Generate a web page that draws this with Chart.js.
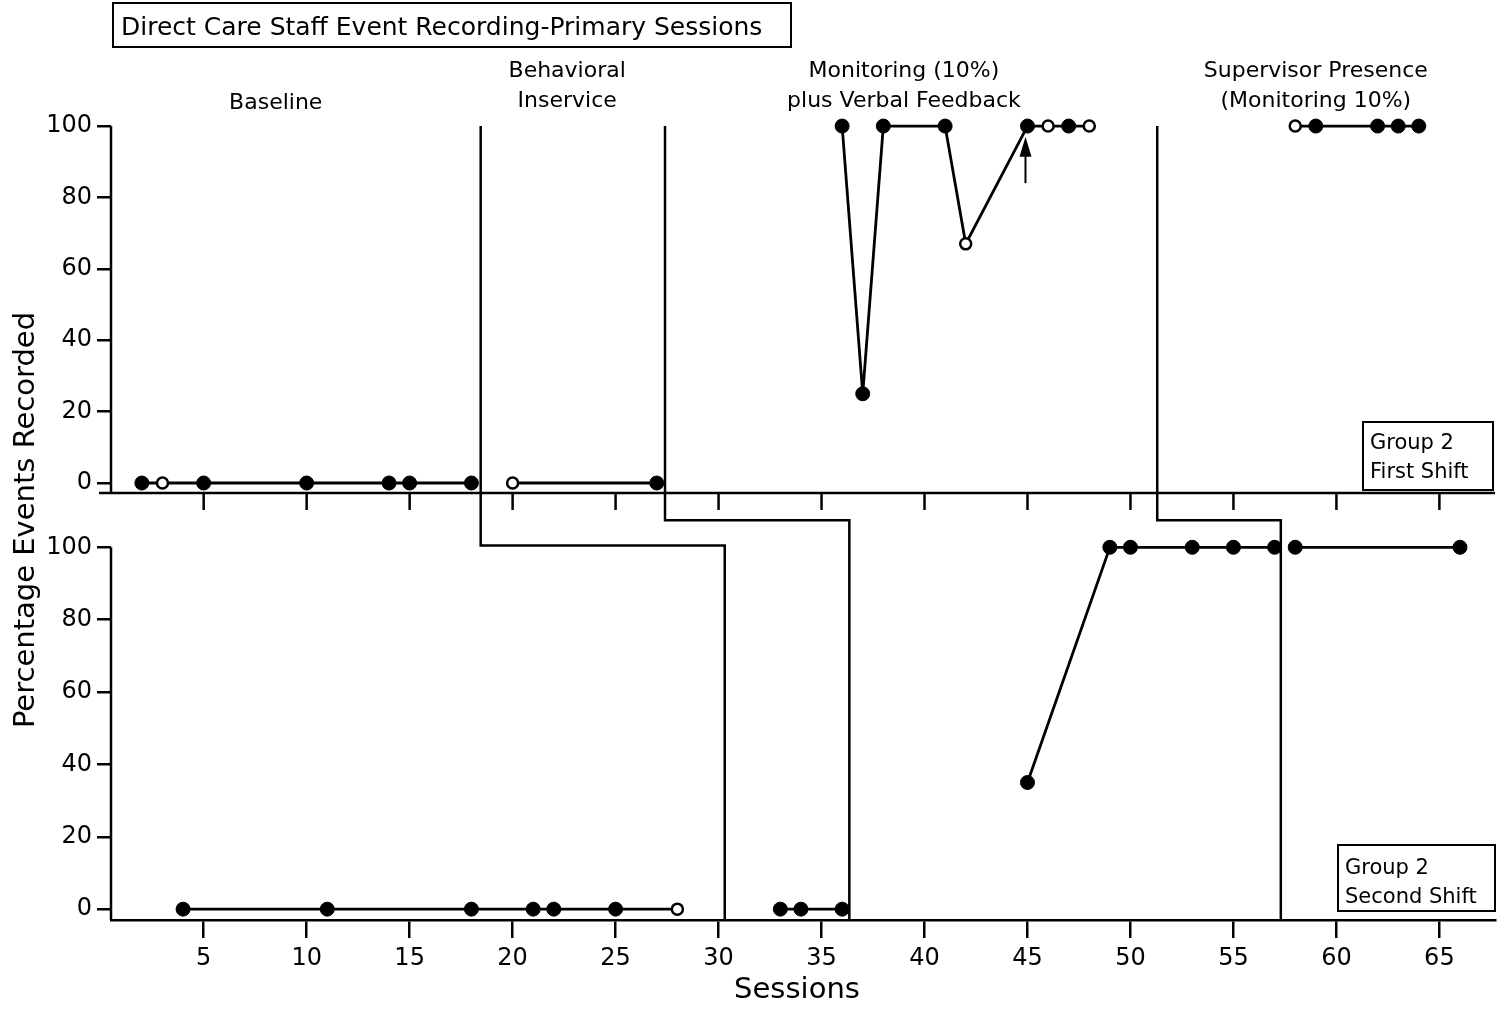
<!DOCTYPE html>
<html>
<head>
<meta charset="utf-8">
<script src="https://cdn.jsdelivr.net/npm/chart.js@4/dist/chart.umd.min.js"></script>
<style>
  html, body { margin: 0; padding: 0; background: #fff; }
  #wrap { width: 1508px; height: 1011px; position: relative; }
</style>
</head>
<body>
<div id="wrap"><canvas id="chart" width="1508" height="1011"></canvas></div>
<script>
// sessions on the x axis, percentages on the y axes; 1 = open circle
const sessionTicks = [5, 10, 15, 20, 25, 30, 35, 40, 45, 50, 55, 60, 65];
const percentTicks = [0, 10, 20, 30, 40, 50, 60, 70, 80, 90, 100];

// Group 2, first shift (top panel)
const firstBaselineX = [2, 3, 5, 10, 14, 15, 18];
const firstBaselineY = [0, 0, 0, 0, 0, 0, 0];
const firstBaselineOpen = [0, 1, 0, 0, 0, 0, 0];
const firstInserviceX = [20, 27];
const firstInserviceY = [0, 0];
const firstInserviceOpen = [1, 0];
const firstMonitorX = [36, 37, 38, 41, 42, 45, 46, 47, 48];
const firstMonitorY = [100, 25, 100, 100, 67, 100, 100, 100, 100];
const firstMonitorOpen = [0, 0, 0, 0, 1, 0, 1, 0, 1];
const firstSuperX = [58, 59, 62, 63, 64];
const firstSuperY = [100, 100, 100, 100, 100];
const firstSuperOpen = [1, 0, 0, 0, 0];

// Group 2, second shift (bottom panel)
const secondBaselineX = [4, 11, 18, 21, 22, 25, 28];
const secondBaselineY = [0, 0, 0, 0, 0, 0, 0];
const secondBaselineOpen = [0, 0, 0, 0, 0, 0, 1];
const secondInserviceX = [33, 34, 36];
const secondInserviceY = [0, 0, 0];
const secondInserviceOpen = [0, 0, 0];
const secondMonitorX = [45, 49, 50, 53, 55, 57];
const secondMonitorY = [35, 100, 100, 100, 100, 100];
const secondMonitorOpen = [0, 0, 0, 0, 0, 0];
const secondSuperX = [58, 66];
const secondSuperY = [100, 100];
const secondSuperOpen = [0, 0];

// phase change lines: session in top panel, session in bottom panel, bottom-panel value of the step
const phaseTopX = [18.45, 27.4, 51.3];
const phaseBottomX = [30.3, 36.35, 57.3];
const phaseStepY = [100.5, 107.5, 107.5];

const phaseNames = [["Baseline"], ["Behavioral", "Inservice"], ["Monitoring (10%)", "plus Verbal Feedback"], ["Supervisor Presence", "(Monitoring 10%)"]];
const phaseNameX = [8.5, 22.65, 39, 59];

function series(xs, ys, open, axis) {
  return {
    data: xs.map((x, i) => ({ x: x, y: ys[i] })),
    yAxisID: axis,
    borderColor: "#000",
    borderWidth: 2.8,
    tension: 0,
    pointRadius: open.map((o) => (o ? 5.5 : 7)),
    pointBackgroundColor: open.map((o) => (o ? "#fff" : "#000")),
    pointBorderColor: "#000",
    pointBorderWidth: open.map((o) => (o ? 2.5 : 1)),
  };
}

const FONT = "'DejaVu Sans', Verdana, sans-serif";

const extras = {
  id: "extras",
  afterDraw(chart) {
    const ctx = chart.ctx;
    const a = chart.chartArea;
    const x = chart.scales.x;
    const yTop = chart.scales.yTop;
    const yBot = chart.scales.yBot;
    const line = (x1, y1, x2, y2) => {
      ctx.beginPath();
      ctx.moveTo(x1, y1);
      ctx.lineTo(x2, y2);
      ctx.stroke();
    };
    ctx.save();
    ctx.strokeStyle = "#000";
    ctx.fillStyle = "#000";
    ctx.lineWidth = 2.5;

    // y axis lines for each panel
    line(a.left, yTop.getPixelForValue(100), a.left, yTop.bottom);
    line(a.left, yBot.getPixelForValue(100), a.left, yBot.bottom);

    // x axis of the top panel
    line(a.left - 12, yTop.bottom, a.right, yTop.bottom);
    sessionTicks.forEach((t) => {
      const px = x.getPixelForValue(t);
      line(px, yTop.bottom, px, yTop.bottom + 17);
    });

    // phase change lines
    phaseTopX.forEach((sx, i) => {
      const p1 = x.getPixelForValue(sx);
      const p2 = x.getPixelForValue(phaseBottomX[i]);
      const ys = yBot.getPixelForValue(phaseStepY[i]);
      ctx.beginPath();
      ctx.moveTo(p1, yTop.getPixelForValue(100));
      ctx.lineTo(p1, ys);
      ctx.lineTo(p2, ys);
      ctx.lineTo(p2, yBot.bottom);
      ctx.stroke();
    });

    // arrow under session 45
    const ax = x.getPixelForValue(45) - 2;
    const aTip = yTop.getPixelForValue(97);
    ctx.lineWidth = 2;
    line(ax, yTop.getPixelForValue(84), ax, aTip + 12);
    ctx.beginPath();
    ctx.moveTo(ax, aTip);
    ctx.lineTo(ax - 6, aTip + 20);
    ctx.lineTo(ax + 6, aTip + 20);
    ctx.closePath();
    ctx.fill();

    // phase names
    ctx.font = "22px " + FONT;
    ctx.textAlign = "center";
    ctx.textBaseline = "middle";
    phaseNames.forEach((lines, i) => {
      const px = x.getPixelForValue(phaseNameX[i]);
      const startY = lines.length === 1 ? 103 : 71;
      lines.forEach((t, j) => ctx.fillText(t, px, startY + j * 30));
    });

    // chart title box
    ctx.lineWidth = 2;
    ctx.strokeRect(113, 3, 678, 44);
    ctx.textAlign = "left";
    ctx.textBaseline = "alphabetic";
    ctx.font = "25px " + FONT;
    ctx.fillText("Direct Care Staff Event Recording-Primary Sessions", 121, 35);

    // panel boxes
    ctx.font = "21px " + FONT;
    ctx.strokeRect(1363, 422, 130, 68);
    ctx.fillText("Group 2", 1370, 449);
    ctx.fillText("First Shift", 1370, 478);
    ctx.strokeRect(1338, 845, 157, 66);
    ctx.fillText("Group 2", 1345, 874);
    ctx.fillText("Second Shift", 1345, 903);

    // shared y title
    ctx.save();
    ctx.translate(26, 520);
    ctx.rotate(-Math.PI / 2);
    ctx.textAlign = "center";
    ctx.textBaseline = "middle";
    ctx.font = "29px " + FONT;
    ctx.fillText("Percentage Events Recorded", 0, 0);
    ctx.restore();

    // x title
    ctx.textAlign = "center";
    ctx.textBaseline = "middle";
    ctx.font = "29px " + FONT;
    ctx.fillText("Sessions", 797, 990);

    ctx.restore();
  },
};

function yAxis(min, max, weight) {
  return {
    type: "linear",
    position: "left",
    stack: "panels",
    stackWeight: weight,
    min: min,
    max: max,
    afterFit: (s) => { s.width = 111; },
    afterBuildTicks: (s) => { s.ticks = percentTicks.map((v) => ({ value: v })); },
    border: { display: false },
    grid: { drawOnChartArea: false, color: "#000", lineWidth: 2.5, tickLength: 14 },
    ticks: {
      color: "#000",
      padding: 5,
      font: { size: 24, family: FONT },
      callback: (v) => (v % 20 === 0 ? v : ""),
    },
  };
}

const ctx = document.getElementById("chart");
new Chart(ctx, {
  type: "line",
  data: {
    datasets: [
      series(firstBaselineX, firstBaselineY, firstBaselineOpen, "yTop"),
      series(firstInserviceX, firstInserviceY, firstInserviceOpen, "yTop"),
      series(firstMonitorX, firstMonitorY, firstMonitorOpen, "yTop"),
      series(firstSuperX, firstSuperY, firstSuperOpen, "yTop"),
      series(secondBaselineX, secondBaselineY, secondBaselineOpen, "yBot"),
      series(secondInserviceX, secondInserviceY, secondInserviceOpen, "yBot"),
      series(secondMonitorX, secondMonitorY, secondMonitorOpen, "yBot"),
      series(secondSuperX, secondSuperY, secondSuperOpen, "yBot"),
    ],
  },
  options: {
    responsive: false,
    animation: false,
    clip: false,
    layout: { padding: { top: 110, right: 13, left: 0, bottom: 0 } },
    plugins: { legend: { display: false }, tooltip: { enabled: false } },
    scales: {
      x: {
        type: "linear",
        min: 0.5,
        max: 67.7,
        afterFit: (s) => { s.height = 91; },
        afterBuildTicks: (s) => { s.ticks = sessionTicks.map((v) => ({ value: v })); },
        border: { color: "#000", width: 2.5 },
        grid: { drawOnChartArea: false, color: "#000", lineWidth: 2.5, tickLength: 18 },
        ticks: { color: "#000", padding: 6, maxRotation: 0, font: { size: 24, family: FONT } },
      },
      yBot: yAxis(-3, 115, 427),
      yTop: yAxis(-2.8, 104.5, 383),
    },
  },
  plugins: [extras],
});
</script>
</body>
</html>
